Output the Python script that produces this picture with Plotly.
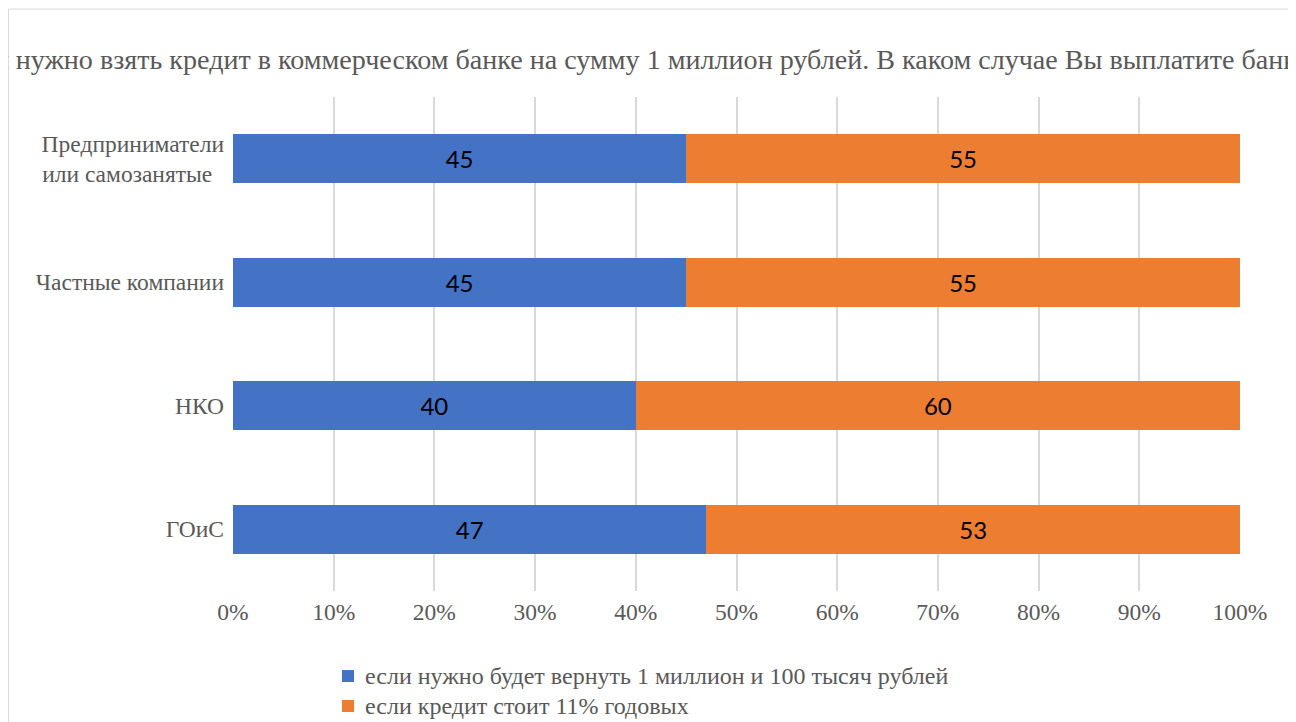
import plotly.graph_objects as go

# data
categories = ["ГОиС", "НКО", "Частные компании",
              "Предприниматели<br>или самозанятые\u00a0\u00a0"]
series_names = ["если нужно будет вернуть 1 миллион и 100 тысяч рублей",
                "если кредит стоит 11% годовых"]
series_colors = ["#4472C4", "#ED7D31"]
vals_return = [47, 40, 45, 45]
vals_rate = [53, 60, 55, 55]
tick_vals = [0, 10, 20, 30, 40, 50, 60, 70, 80, 90, 100]
tick_text = ["0%", "10%", "20%", "30%", "40%", "50%", "60%", "70%", "80%", "90%", "100%"]
title_text = ("Если Вам нужно взять кредит в коммерческом банке на сумму 1 миллион рублей. "
              "В каком случае Вы выплатите банку меньше?")

serif = "Liberation Serif, Times New Roman, serif"
gray = "#595959"
label_font = dict(family="Lato, sans-serif", size=24, color="black")

fig = go.Figure()
for vals, name, color in zip([vals_return, vals_rate], series_names, series_colors):
    fig.add_trace(go.Bar(
        y=categories, x=vals, name=name, orientation="h",
        marker=dict(color=color, line=dict(width=0)),
        text=vals, textposition="inside", insidetextanchor="middle",
        textfont=label_font, showlegend=False,
    ))

# legend drawn by hand: plotly's own legend would push the plot area up
shapes = [dict(
    type="rect", xref="paper", yref="paper",
    x0=-0.2229, x1=1.0526, y0=-0.3, y1=1.178,
    line=dict(color="#d9d9d9", width=1), fillcolor="rgba(0,0,0,0)",
)]
annotations = [dict(
    text=title_text, xref="paper", yref="paper",
    x=-0.339, y=1.075, xanchor="left", yanchor="middle",
    showarrow=False, font=dict(family=serif, size=28.1, color=gray),
)]
leg_y = [-0.1721, -0.2328]
for i, (name, color) in enumerate(zip(series_names, series_colors)):
    shapes.append(dict(
        type="rect", xref="paper", yref="paper",
        x0=0.1082, x1=0.1202, y0=leg_y[i] - 0.0121, y1=leg_y[i] + 0.0121,
        line=dict(width=0), fillcolor=color,
    ))
    annotations.append(dict(
        text=name, xref="paper", yref="paper",
        x=0.1291, y=leg_y[i], xanchor="left", yanchor="middle",
        showarrow=False, font=dict(family=serif, size=24, color=gray),
    ))

# page body has an 8px margin, so the figure is 8px smaller than the window
fig.update_layout(
    width=1288, height=714,
    barmode="stack", bargap=0.6,
    margin=dict(l=225, r=56, t=89, b=131),
    paper_bgcolor="white", plot_bgcolor="white",
    font=dict(family=serif, size=23, color=gray),
    uniformtext=dict(mode="show", minsize=10),
    showlegend=False,
    annotations=annotations,
    shapes=shapes,
)

fig.update_xaxes(
    range=[0, 100], tickvals=tick_vals, ticktext=tick_text,
    showgrid=True, gridcolor="#d9d9d9", gridwidth=1.5,
    zeroline=False, showline=False, ticks="",
    ticklabelstandoff=4,
    tickfont=dict(family=serif, size=23.5, color=gray),
)
fig.update_yaxes(
    categoryorder="array", categoryarray=categories,
    showgrid=False, zeroline=False, showline=False, ticks="",
    ticklabelstandoff=8,
    tickfont=dict(family=serif, size=23.5, color=gray),
)

fig.write_html("out.html")
